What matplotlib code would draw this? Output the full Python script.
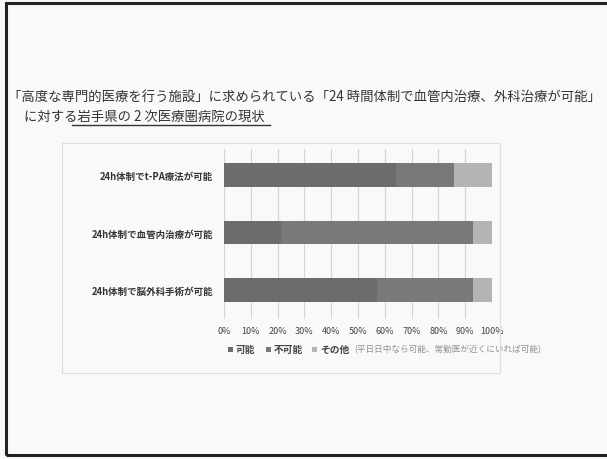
import matplotlib
matplotlib.use("Agg")
import matplotlib.pyplot as plt
from matplotlib.patches import Rectangle

plt.rcParams['font.family'] = ['Noto Sans CJK JP', 'DejaVu Sans']

categories = ["24h体制でt-PA療法が可能", "24h体制で血管内治療が可能", "24h体制で脳外科手術が可能"]
series_names = ["可能", "不可能", "その他"]
possible = [64.3, 21.4, 57.1]
impossible = [21.4, 71.5, 35.8]
other = [14.3, 7.1, 7.1]
xtick_labels = ["0%", "10%", "20%", "30%", "40%", "50%", "60%", "70%", "80%", "90%", "100%"]
colors = ["#6c6c6c", "#797979", "#b4b4b4"]
note = "(平日日中なら可能、常勤医が近くにいれば可能)"

W, H = 607, 460
fig = plt.figure(figsize=(W / 100, H / 100), dpi=100)
fig.patch.set_facecolor("#f9f9f9")


def fx(px):
    return px / W


def fy(py):
    return 1 - py / H


# slide frame
fig.add_artist(Rectangle((fx(6), fy(456)), 620 / W, 452 / H, transform=fig.transFigure,
                         fill=False, edgecolor="#222222", linewidth=2.2))
# chart area frame
fig.add_artist(Rectangle((fx(62), fy(374)), 438 / W, 230 / H, transform=fig.transFigure,
                         fill=False, edgecolor="#dedede", linewidth=0.8))

# heading
fig.text(fx(8), fy(97),
         "「高度な専門的医療を行う施設」に求められている「24 時間体制で血管内治療、外科治療が可能」",
         fontsize=9.6, color="#333333", va="center", ha="left")
fig.text(fx(24), fy(117), "に対する岩手県の 2 次医療圏病院の現状",
         fontsize=9.6, color="#333333", va="center", ha="left")
fig.add_artist(plt.Line2D([fx(72), fx(270)], [fy(126), fy(126)],
                          transform=fig.transFigure, color="#333333", linewidth=1.0))

ax = fig.add_axes([fx(224), fy(320), 268 / W, 170 / H])
ax.set_facecolor("none")
y = list(range(len(categories)))
left = [0] * len(categories)
for vals, c, name in zip([possible, impossible, other], colors, series_names):
    ax.barh(y, vals, left=left, height=0.41, color=c, label=name, zorder=3)
    left = [a + b for a, b in zip(left, vals)]

ax.set_xlim(0, 100)
ax.set_ylim(2.5, -0.45)
ax.set_xticks(range(0, 101, 10))
ax.set_xticklabels(xtick_labels, fontsize=6.5, color="#444444")
ax.set_yticks(y)
ax.set_yticklabels(categories, fontsize=6.8, color="#333333", fontweight="bold")
ax.tick_params(axis="x", length=0, pad=5)
ax.tick_params(axis="y", length=0, pad=8)
ax.grid(axis="x", color="#d4d4d4", linewidth=0.8, zorder=0)
for s in ax.spines.values():
    s.set_visible(False)

# legend row
legend_y = 350
for name, c, x0 in zip(series_names, colors, [228, 266, 312]):
    fig.add_artist(Rectangle((fx(x0), fy(legend_y + 2.5)), 5 / W, 5 / H,
                             transform=fig.transFigure, facecolor=c, edgecolor="none"))
    fig.text(fx(x0 + 8), fy(legend_y), name, fontsize=7, color="#444444",
             va="center", ha="left", fontweight="bold")
fig.text(fx(354), fy(legend_y), note, fontsize=6.2, color="#8f8f8f", va="center", ha="left")

fig.savefig("out.png", dpi=100, facecolor=fig.get_facecolor())
